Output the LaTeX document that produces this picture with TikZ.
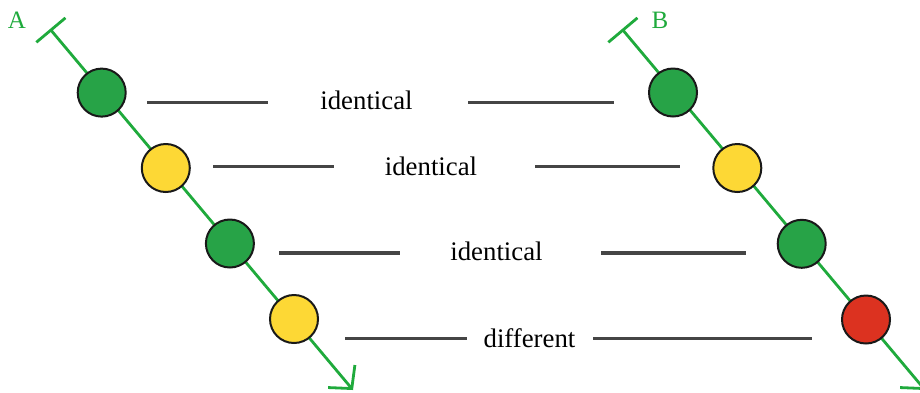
\documentclass[tikz,border=0pt]{standalone}
\usepackage{fontspec}
\setmainfont{Liberation Serif}
\usetikzlibrary{arrows.meta}
\definecolor{strand}{HTML}{1FAA3C}
\definecolor{dotgreen}{HTML}{27A347}
\definecolor{dotyellow}{HTML}{FDD835}
\definecolor{dotred}{HTML}{DC3220}
\definecolor{rule}{HTML}{454545}
\begin{document}
\begin{tikzpicture}[x=1pt,y=-1pt,
  strandline/.style={draw=strand,line width=2.8pt,
    {Bar[width=38pt,line width=2.8pt]}-{Straight Barb[length=16pt,width=35pt,line width=2.8pt]}},
  dot/.style={circle,draw=black!90,line width=2pt,minimum size=48pt,inner sep=0pt},
  compare/.style={draw=rule,line width=3.2pt},
  word/.style={anchor=base,inner sep=0pt,font=\fontsize{26.8}{30}\selectfont,text=black},
  tag/.style={inner sep=0pt,text=strand,font=\fontsize{25}{28}\selectfont}]
\useasboundingbox (0,0) rectangle (920,392);
\begin{scope}
\clip (0,0) rectangle (920,392);
% strand A and strand B
\coordinate (sa) at (50,29);
\coordinate (ea) at (353,390);
\coordinate (sb) at (622,29);
\coordinate (eb) at (925,390);
\draw[strandline] (sa) -- (ea);
\draw[strandline] (sb) -- (eb);
\end{scope}
\node[tag] (la) at (17,20) {A};
\node[tag] (lb) at (660,20) {B};
% markers on strand A
\node[dot,fill=dotgreen]  (a1) at (101.7,92.6) {};
\node[dot,fill=dotyellow] (a2) at (165.8,168) {};
\node[dot,fill=dotgreen]  (a3) at (229.9,243.5) {};
\node[dot,fill=dotyellow] (a4) at (294,319) {};
% markers on strand B
\node[dot,fill=dotgreen]  (b1) at (673,92.5) {};
\node[dot,fill=dotyellow] (b2) at (737.3,168) {};
\node[dot,fill=dotgreen]  (b3) at (801.7,243.8) {};
\node[dot,fill=dotred]    (b4) at (866,319.5) {};
% comparison labels
\node[word] (t1) at (366.5,109) {identical};
\node[word] (t2) at (431,175) {identical};
\node[word] (t3) at (496.5,260) {identical};
\node[word] (t4) at (529.5,347) {different};
% rule ends
\coordinate (p1) at (147,102.7); \coordinate (q1) at (268,102.7);
\coordinate (r1) at (468,102.7); \coordinate (s1) at (614,102.7);
\coordinate (p2) at (213,166.7); \coordinate (q2) at (334,166.7);
\coordinate (r2) at (535,166.7); \coordinate (s2) at (680,166.7);
\coordinate (p3) at (279,253);   \coordinate (q3) at (400,253);
\coordinate (r3) at (601,253);   \coordinate (s3) at (746,253);
\coordinate (p4) at (345,338.5); \coordinate (q4) at (467,338.5);
\coordinate (r4) at (593,338.5); \coordinate (s4) at (812,338.5);
\foreach \i in {1,2,3,4}{
  \draw[compare] (p\i) -- (q\i);
  \draw[compare] (r\i) -- (s\i);
}
\end{tikzpicture}
\end{document}
